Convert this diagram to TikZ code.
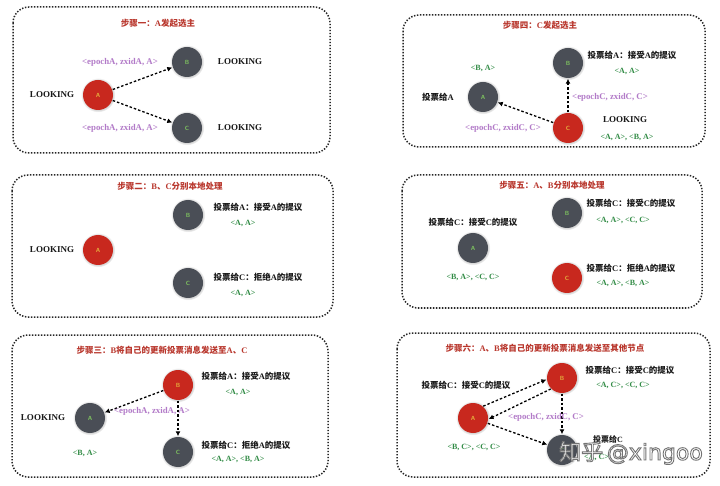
\documentclass[tikz,border=0pt]{standalone}
\usepackage{fontspec}
\setmainfont{Liberation Serif}
\newfontfamily\cjk{Noto Sans CJK SC}
\newfontfamily\wmsans{DejaVu Sans}
\usetikzlibrary{arrows.meta,shadows}
\definecolor{nodered}{RGB}{200,40,30}
\definecolor{nodegray}{RGB}{74,78,86}
\definecolor{titlered}{RGB}{185,55,45}
\definecolor{lblpurple}{RGB}{178,122,200}
\definecolor{lblgreen}{RGB}{50,140,70}
\definecolor{ltryellow}{RGB}{228,172,60}
\definecolor{ltrgreen}{RGB}{125,192,95}
\newcommand\zh[1]{{\cjk #1}}
\newcommand\outlinedtext[1]{\special{pdf:literal direct 0.9 w 0.45 G 2 Tr}#1\special{pdf:literal direct 0 Tr}}
\tikzset{
  panel/.style={draw=black!85, line width=1.5pt, dash pattern=on 1.4pt off 1.6pt, rounded corners=16pt},
  basenode/.style={circle, minimum size=30pt, inner sep=0pt,
    font=\sffamily\bfseries\fontsize{6}{6}\selectfont,
    circular drop shadow={shadow xshift=0pt, shadow yshift=0pt, shadow scale=1.15, opacity=0.35}},
  rednode/.style={basenode, fill=nodered, text=ltryellow},
  graynode/.style={basenode, fill=nodegray, text=ltrgreen},
  ttl/.style={text=titlered, font=\bfseries\fontsize{8.5}{10}\selectfont, inner sep=1pt},
  lbl/.style={text=black!90, font=\bfseries\fontsize{8.5}{10}\selectfont, inner sep=1pt},
  msg/.style={text=lblpurple, font=\bfseries\fontsize{8.8}{10}\selectfont, inner sep=1pt},
  vote/.style={text=lblgreen, font=\bfseries\fontsize{8}{10}\selectfont, inner sep=1pt},
  msgarrow/.style={draw=black, line width=1.3pt, dash pattern=on 2.5pt off 2pt,
    -{Latex[length=5pt,width=5pt]}, shorten >=0.5pt, shorten <=0.5pt},
  wm/.style={font=\fontsize{22}{24}\selectfont, inner sep=0pt}
}
\begin{document}
\begin{tikzpicture}[x=1pt,y=-1pt]
\useasboundingbox[fill=white] (0,0) rectangle (720,486);

% ---------------- Panel 1
\draw[panel] (13,7) rectangle (330,153);
\node[ttl] (t1) at (158,23) {\zh{步骤一：}A\zh{发起选主}};
\node[rednode] (p1A) at (98,95) {A};
\node[graynode] (p1B) at (187,62) {B};
\node[graynode] (p1C) at (187,128) {C};
\node[lbl, font=\bfseries\fontsize{9}{11}\selectfont] (p1LA) at (52,95) {LOOKING};
\node[lbl, font=\bfseries\fontsize{9}{11}\selectfont] (p1LB) at (240,62) {LOOKING};
\node[lbl, font=\bfseries\fontsize{9}{11}\selectfont] (p1LC) at (240,128) {LOOKING};
\node[msg] (p1m1) at (120,62) {<epochA, zxidA, A>};
\node[msg] (p1m2) at (120,128) {<epochA, zxidA, A>};
\draw[msgarrow] (p1A) -- (p1B);
\draw[msgarrow] (p1A) -- (p1C);

% ---------------- Panel 4
\draw[panel] (403,15) rectangle (705,147);
\node[ttl] (t4) at (540,25) {\zh{步骤四：}C\zh{发起选主}};
\node[graynode] (p4B) at (568,63) {B};
\node[graynode] (p4A) at (483,97) {A};
\node[rednode] (p4C) at (568,128) {C};
\node[lbl] (p4vB) at (632,55) {\zh{投票给}A\zh{：接受}A\zh{的提议}};
\node[vote] (p4gB) at (627,71) {<A, A>};
\node[vote] (p4gA) at (483,68) {<B, A>};
\node[lbl] (p4vA) at (438,97) {\zh{投票给}A};
\node[msg] (p4m1) at (610,97) {<epochC, zxidC, C>};
\node[msg] (p4m2) at (503,128) {<epochC, zxidC, C>};
\node[lbl, font=\bfseries\fontsize{9}{11}\selectfont] (p4LC) at (625,120) {LOOKING};
\node[vote] (p4gC) at (627,137) {<A, A>, <B, A>};
\draw[msgarrow] (p4C) -- (p4B);
\draw[msgarrow] (p4C) -- (p4A);

% ---------------- Panel 2
\draw[panel] (12,175) rectangle (333,317);
\node[ttl] (t2) at (170,186) {\zh{步骤二：}B\zh{、}C\zh{分别本地处理}};
\node[rednode] (p2A) at (98,250) {A};
\node[graynode] (p2B) at (188,215) {B};
\node[graynode] (p2C) at (188,283) {C};
\node[lbl, font=\bfseries\fontsize{9}{11}\selectfont] (p2LA) at (52,250) {LOOKING};
\node[lbl] (p2vB) at (258,207) {\zh{投票给}A\zh{：接受}A\zh{的提议}};
\node[vote] (p2gB) at (243,223) {<A, A>};
\node[lbl] (p2vC) at (258,277) {\zh{投票给}C\zh{：拒绝}A\zh{的提议}};
\node[vote] (p2gC) at (243,293) {<A, A>};

% ---------------- Panel 5
\draw[panel] (402,175) rectangle (702,308);
\node[ttl] (t5) at (552,185) {\zh{步骤五：}A\zh{、}B\zh{分别本地处理}};
\node[graynode] (p5B) at (567,213) {B};
\node[graynode] (p5A) at (473,248) {A};
\node[rednode] (p5C) at (567,278) {C};
\node[lbl] (p5vB) at (631,203) {\zh{投票给}C\zh{：接受}C\zh{的提议}};
\node[vote] (p5gB) at (623,220) {<A, A>, <C, C>};
\node[lbl] (p5vA) at (473,222) {\zh{投票给}C\zh{：接受}C\zh{的提议}};
\node[vote] (p5gA) at (473,277) {<B, A>, <C, C>};
\node[lbl] (p5vC) at (631,268) {\zh{投票给}C\zh{：拒绝}A\zh{的提议}};
\node[vote] (p5gC) at (623,283) {<A, A>, <B, A>};

% ---------------- Panel 3
\draw[panel] (12,335) rectangle (328,477);
\node[ttl] (t3) at (162,350) {\zh{步骤三：}B\zh{将自己的更新投票消息发送至}A\zh{、}C};
\node[rednode] (p3B) at (178,385) {B};
\node[graynode] (p3A) at (90,418) {A};
\node[graynode] (p3C) at (178,452) {C};
\node[lbl, font=\bfseries\fontsize{9}{11}\selectfont] (p3LA) at (43,418) {LOOKING};
\node[lbl] (p3vB) at (246,376) {\zh{投票给}A\zh{：接受}A\zh{的提议}};
\node[vote] (p3gB) at (238,392) {<A, A>};
\node[vote] (p3gA) at (85,453) {<B, A>};
\node[lbl] (p3vC) at (246,445) {\zh{投票给}C\zh{：拒绝}A\zh{的提议}};
\node[vote] (p3gC) at (238,459) {<A, A>, <B, A>};
\draw[msgarrow] (p3B) -- (p3A);
\draw[msgarrow] (p3B) -- (p3C);
\node[msg] (p3m) at (152,411) {<epochA, zxidA, A>};

% ---------------- Panel 6
\draw[panel] (397,333) rectangle (710,477);
\node[ttl] (t6) at (545,348) {\zh{步骤六：}A\zh{、}B\zh{将自己的更新投票消息发送至其他节点}};
\node[rednode] (p6B) at (562,378) {B};
\node[rednode] (p6A) at (473,418) {A};
\node[graynode] (p6C) at (562,450) {C};
\node[lbl] (p6vB) at (630,370) {\zh{投票给}C\zh{：接受}C\zh{的提议}};
\node[vote] (p6gB) at (623,385) {<A, C>, <C, C>};
\node[lbl] (p6vA) at (466,385) {\zh{投票给}C\zh{：接受}C\zh{的提议}};
\node[vote] (p6gA) at (474,447) {<B, C>, <C, C>};
\node[lbl, anchor=west, font=\bfseries\fontsize{8}{10}\selectfont] (p6vC) at (592,439) {\zh{投票给}C};
\node[vote, anchor=west] (p6gC) at (583,457) {<A, C>};
\draw[msgarrow] (p6A.50) -- (p6B.185);
\draw[msgarrow] (p6B.225) -- (p6A.355);
\draw[msgarrow] (p6A) -- (p6C);
\draw[msgarrow] (p6B) -- (p6C);
\node[msg] (p6m) at (546,417) {<epochC, zxidC, C>};

% watermark
\node[wm, text=white] (wm) at (631,453) {\outlinedtext{\zh{知乎}\,\wmsans @xingoo}};
\end{tikzpicture}
\end{document}
